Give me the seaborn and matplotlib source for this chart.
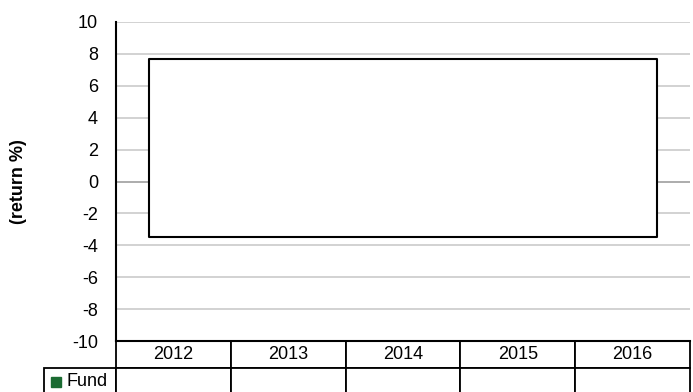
import matplotlib
matplotlib.use("Agg")
import matplotlib.pyplot as plt
from matplotlib.table import Table
import seaborn as sns
import numpy as np

# data
years = ["2012", "2013", "2014", "2015", "2016"]
series_name = "Fund"
range_high = [7.7, 7.7, 7.7, 7.7, 7.7]
range_low = [-3.45, -3.45, -3.45, -3.45, -3.45]
yticks = [-10, -8, -6, -4, -2, 0, 2, 4, 6, 8, 10]

sns.set_style("white")
plt.rcParams["font.family"] = ["Liberation Sans", "DejaVu Sans"]
plt.rcParams["text.color"] = "black"
plt.rcParams["axes.labelcolor"] = "black"
plt.rcParams["ytick.color"] = "black"

fig = plt.figure(figsize=(6.93, 3.92), dpi=100)
ax = fig.add_axes([116 / 693, 1 - 341 / 392, 574 / 693, 319 / 392])

x = np.arange(len(years))
half = 0.21
xs = np.concatenate([[x[0] - half], x, [x[-1] + half]])
hi = np.concatenate([[range_high[0]], range_high, [range_high[-1]]])
lo = np.concatenate([[range_low[0]], range_low, [range_low[-1]]])
ax.fill_between(xs, lo, hi, facecolor="white", edgecolor="black", linewidth=1.5, zorder=3)

ax.set_xlim(-0.5, len(years) - 0.5)
ax.set_ylim(-10, 10)
ax.set_yticks(yticks)
ax.set_yticklabels([str(t) for t in yticks], fontsize=13)
ax.set_xticks([])
ax.tick_params(axis="y", length=0, pad=13)

for t in yticks[1:]:
    ax.axhline(t, color="#a6a6a6" if t == 0 else "#cfcfcf", lw=1.3, zorder=1)

for s in ["top", "right"]:
    ax.spines[s].set_visible(False)
ax.spines["left"].set_color("black")
ax.spines["left"].set_linewidth(1.5)
ax.spines["bottom"].set_color("black")
ax.spines["bottom"].set_linewidth(1.5)

ax.set_ylabel("(return %)", fontsize=13, fontweight="bold")
ax.yaxis.set_label_coords((27 - 116) / 574, 0.5)

# data table under the axis
lab_w = 72 / 574
col_w = 1 / len(years)
row_h = 27 / 319
tab = Table(ax, bbox=[0, -2 * row_h, 1, 2 * row_h])
for i, yr in enumerate(years):
    tab.add_cell(0, i, width=col_w, height=row_h, text=yr, loc="center")
    tab.add_cell(1, i, width=col_w, height=row_h, text="", loc="center")
lc = tab.add_cell(1, -1, width=lab_w, height=row_h, text=series_name, loc="right")
lc.PAD = 0.12
tab.auto_set_font_size(False)
tab.set_fontsize(13)
for cell in tab.get_celld().values():
    cell.set_edgecolor("black")
    cell.set_linewidth(1.3)
    cell.set_facecolor("white")
    cell.get_text().set_color("black")
ax.add_table(tab)

ax.plot([-(116 - 56) / 574], [-1.5 * row_h], marker="s", markersize=7.2, color="#1b6b32",
        linestyle="none", transform=ax.transAxes, clip_on=False, zorder=5)

fig.savefig("out.png", dpi=100)
